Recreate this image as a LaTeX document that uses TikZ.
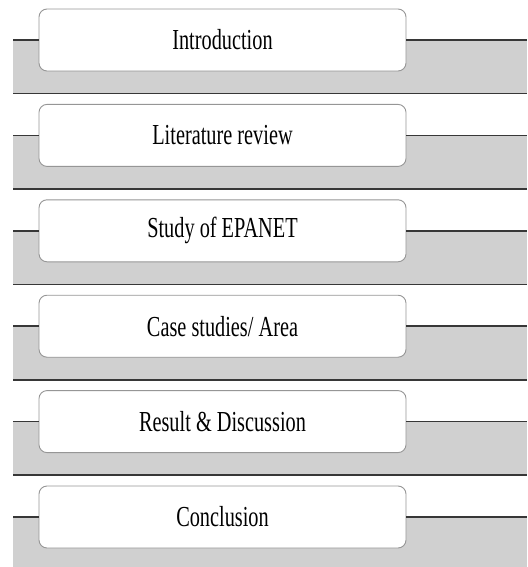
\documentclass[tikz,border=0pt]{standalone}
\usepackage{fontspec}
\setmainfont{Liberation Serif}[FakeStretch=0.70]
\definecolor{bandFill}{RGB}{208,208,208}
\definecolor{bandRule}{RGB}{55,55,55}
\definecolor{boxRule}{RGB}{150,150,150}
\usepackage{tikz}
\usetikzlibrary{positioning}

\tikzset{
    topic/.style={draw=boxRule, fill=white, line width=0.9pt, rounded corners=8pt,
        minimum width=367pt, minimum height=62pt, inner sep=0pt,
        font=\fontsize{29}{32}\selectfont},
    rule/.style={draw=bandRule, line width=1.6pt}
}

\begin{document}
\begin{tikzpicture}[x=1pt, y=-1pt]
    \useasboundingbox (0,0) rectangle (527,567);
    \def\left{13}
    \def\right{527}
    \def\mid{222.5}

    % gray bands
    \fill[bandFill] (\left,40)    rectangle (\right,93.5);
    \fill[bandFill] (\left,135.4) rectangle (\right,188.9);
    \fill[bandFill] (\left,230.8) rectangle (\right,284.3);
    \fill[bandFill] (\left,326.2) rectangle (\right,379.7);
    \fill[bandFill] (\left,421.6) rectangle (\right,475.1);
    \fill[bandFill] (\left,517)   rectangle (\right,567);

    % bottom rules
    \draw[rule] (\left,93.5)  -- (\right,93.5);
    \draw[rule] (\left,188.9) -- (\right,188.9);
    \draw[rule] (\left,284.3) -- (\right,284.3);
    \draw[rule] (\left,379.7) -- (\right,379.7);
    \draw[rule] (\left,475.1) -- (\right,475.1);

    % topic boxes
    \node[topic] (intro) at (\mid,40)    {Introduction};
    \node[topic] (lit)   at (\mid,135.4) {Literature review};
    \node[topic] (epa)   at (\mid,230.8) {Study of EPANET};
    \node[topic] (area)  at (\mid,326.2) {Case studies/ Area};
    \node[topic] (res)   at (\mid,421.6) {Result \& Discussion};
    \node[topic] (conc)  at (\mid,517)   {Conclusion};

    % top rules, left and right of each box
    \coordinate (introL) at (\left,40);    \coordinate (introR) at (\right,40);
    \coordinate (litL)   at (\left,135.4); \coordinate (litR)   at (\right,135.4);
    \coordinate (epaL)   at (\left,230.8); \coordinate (epaR)   at (\right,230.8);
    \coordinate (areaL)  at (\left,326.2); \coordinate (areaR)  at (\right,326.2);
    \coordinate (resL)   at (\left,421.6); \coordinate (resR)   at (\right,421.6);
    \coordinate (concL)  at (\left,517);   \coordinate (concR)  at (\right,517);

    \draw[rule] (introL) -- (intro.west) (intro.east) -- (introR);
    \draw[rule] (litL)   -- (lit.west)   (lit.east)   -- (litR);
    \draw[rule] (epaL)   -- (epa.west)   (epa.east)   -- (epaR);
    \draw[rule] (areaL)  -- (area.west)  (area.east)  -- (areaR);
    \draw[rule] (resL)   -- (res.west)   (res.east)   -- (resR);
    \draw[rule] (concL)  -- (conc.west)  (conc.east)  -- (concR);
\end{tikzpicture}
\end{document}
